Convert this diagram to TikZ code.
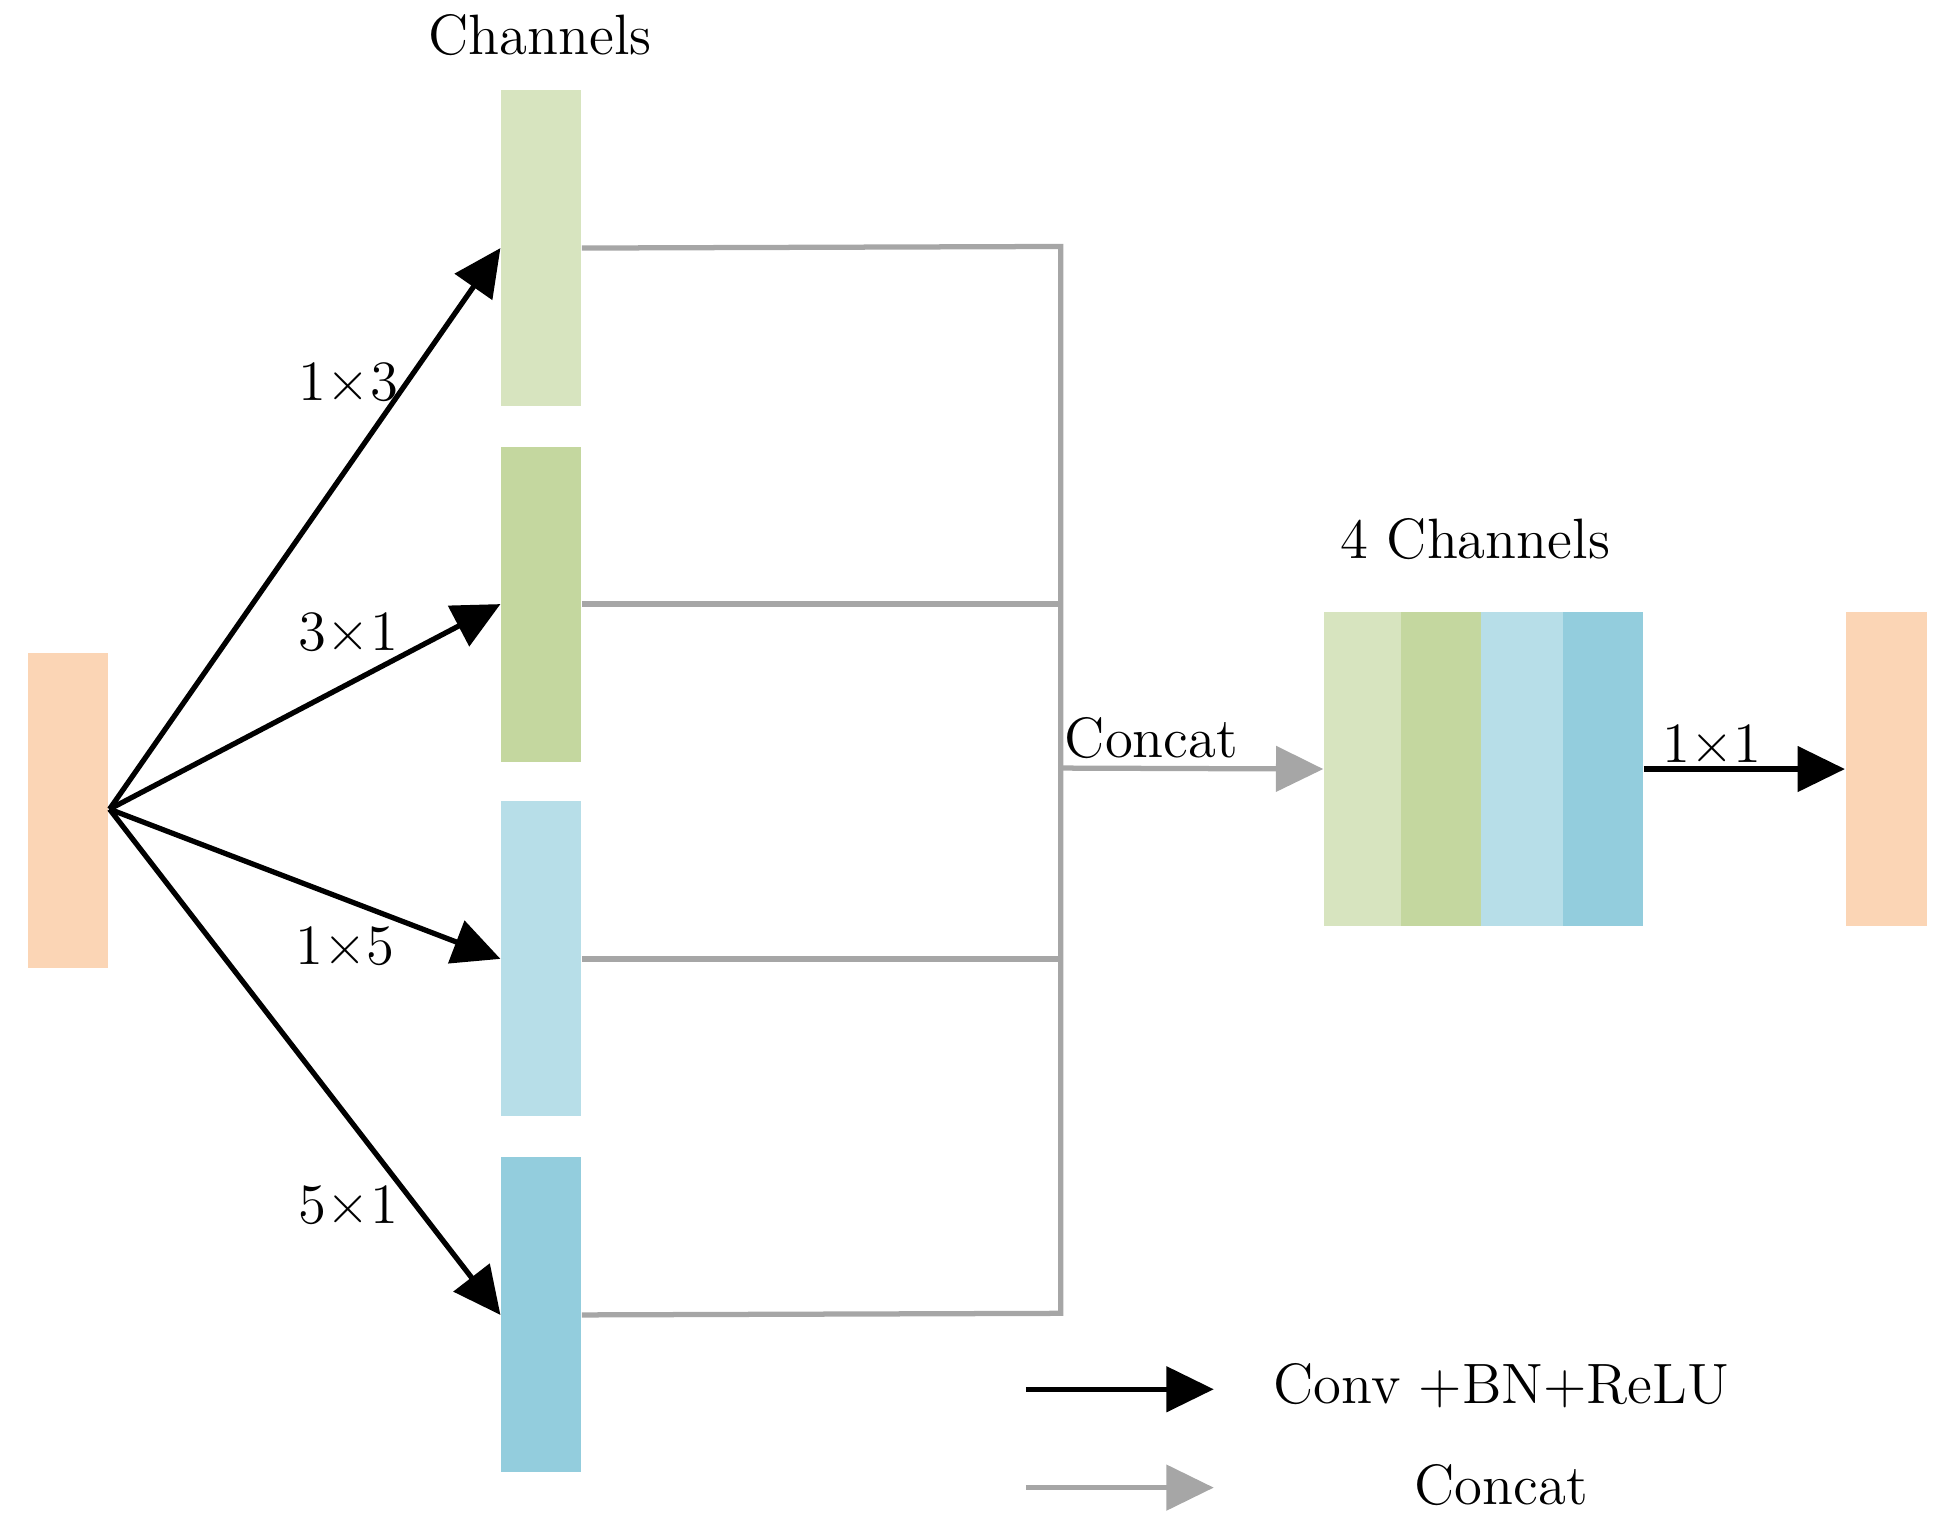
\documentclass[tikz,border=0pt]{standalone}
\usetikzlibrary{arrows.meta}
\begin{document}
\begin{tikzpicture}[x=0.01cm,y=-0.01cm,
  box/.style={draw=none,minimum width=0.64cm,inner sep=0,anchor=north west},
  lab/.style={font=\fontsize{13}{15}\selectfont},
  blk/.style={line width=1.2pt,-{Triangle[length=0.38cm,width=0.36cm]}},
  gry/.style={line width=1.2pt,draw=gray!70,-{Triangle[length=0.38cm,width=0.36cm]}},
  gl/.style={line width=1.2pt,draw=gray!70}]
\useasboundingbox (0,0) rectangle (1560,1225);
\definecolor{pe}{HTML}{FBD5B5}\definecolor{g1}{HTML}{D7E4BF}\definecolor{g2}{HTML}{C4D79F}
\definecolor{b1}{HTML}{B7DEE8}\definecolor{b2}{HTML}{93CDDD}
\node[box,fill=pe,minimum height=2.53cm] (in) at (22,524) {};
\node[box,fill=g1,minimum height=2.53cm] (c1) at (402,72) {};
\node[box,fill=g2,minimum height=2.53cm] (c2) at (402,358) {};
\node[box,fill=b1,minimum height=2.53cm] (c3) at (402,643) {};
\node[box,fill=b2,minimum height=2.53cm] (c4) at (402,929) {};
\node[box,fill=g1,minimum height=2.52cm,minimum width=0.62cm] (s1) at (1063,491) {};
\node[box,fill=g2,minimum height=2.52cm] (s2) at (1125,491) {};
\node[box,fill=b1,minimum height=2.52cm,minimum width=0.66cm] (s3) at (1189,491) {};
\node[box,fill=b2,minimum height=2.52cm] (s4) at (1255,491) {};
\node[box,fill=pe,minimum height=2.52cm,minimum width=0.65cm] (out) at (1482,491) {};
\coordinate (src) at (88,650);
\draw[blk] (src) -- (c1.west);
\draw[blk] (src) -- (c2.west);
\draw[blk] (src) -- (c3.west);
\draw[blk] (src) -- (c4.west);
\coordinate (j1) at (852,198);\coordinate (j4) at (852,1055);\coordinate (jm) at (852,617);
\draw[gl] (c1.east) -- (j1) -- (j4) -- (c4.east);
\draw[gl] (c2.east) -- (c2.east -| jm);
\draw[gl] (c3.east) -- (c3.east -| jm);
\draw[gry] (jm) -- (s1.west);
\draw[blk] (s4.east) -- (out.west);
\node[lab] (t0) at (434,28) {Channels};
\node[lab] (t1) at (1185,433) {4 Channels};
\node[lab] (t2) at (925,593) {Concat};
\node[lab] (t3) at (1375,597) {1×1};
\node[lab] (l1) at (280,307) {1×3};
\node[lab] (l2) at (280,508) {3×1};
\node[lab] (l3) at (277,760) {1×5};
\node[lab] (l4) at (280,968) {5×1};
\coordinate (a1) at (824,1116);\coordinate (a2) at (975,1116);
\coordinate (b1) at (824,1195);\coordinate (b2) at (975,1195);
\draw[blk] (a1) -- (a2);
\draw[gry] (b1) -- (b2);
\node[lab] (k1) at (1206,1113) {Conv +BN+ReLU};
\node[lab] (k2) at (1206,1193) {Concat};
\end{tikzpicture}
\end{document}
